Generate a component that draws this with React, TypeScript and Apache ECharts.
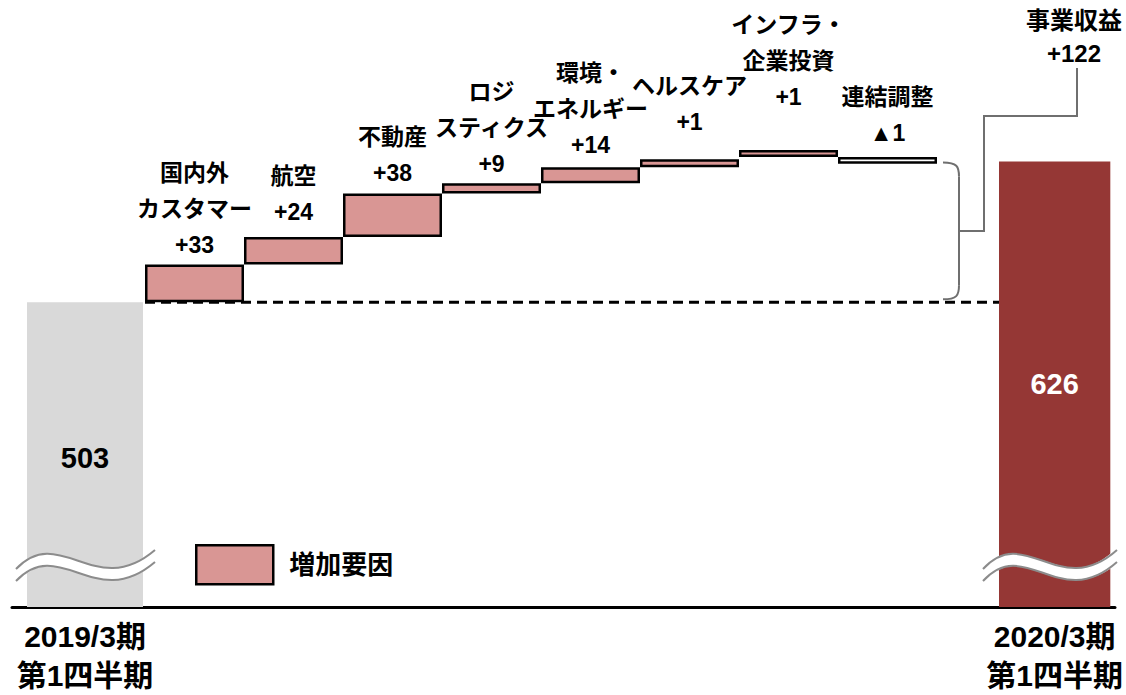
import React, { useEffect, useRef } from 'react';
import * as echarts from 'echarts';

// ---- data ----
const startLabel = '2019/3期\n第1四半期';
const endLabel = '2020/3期\n第1四半期';
const startValue = 503;
const endValue = 626;
const totalName = '事業収益';
const totalChangeLabel = '+122';
const legendName = '増加要因';
const stepNames = ['国内外\nカスタマー', '航空', '不動産', 'ロジ\nスティクス', '環境・\nエネルギー', 'ヘルスケア', 'インフラ・\n企業投資', '連結調整'];
const stepLabels = ['+33', '+24', '+38', '+9', '+14', '+1', '+1', '▲1'];
// bar extents as drawn in the picture (low / high)
const stepLow = [503, 536, 560, 598, 607, 621, 630, 624];
const stepHigh = [536, 560, 598, 607, 621, 628, 636, 630];
const stepIsDecrease = [false, false, false, false, false, false, false, true];

// ---- layout / style ----
const FONT = "'Liberation Sans', 'Noto Sans CJK JP', sans-serif";
const Y_MIN = 237;
const Y_MAX = 767;
const GRID_TOP = 0;
const GRID_BOTTOM = 88;
const G0_LEFT = 27, G0_W = 116;
const G1_LEFT = 145, G1_W = 792;
const G2_LEFT = 999, G2_W = 116;
const labelDistances = [2, 7, 3, 1, 4, 19, 35, 6];
const PINK = '#D99694';
const DARK = '#953735';
const GRAY = '#D9D9D9';
const LINE_GRAY = '#6f6f6f';

function makeYAxis(gridIndex: number) {
  return {
    type: 'value', gridIndex, min: Y_MIN, max: Y_MAX,
    show: false, splitLine: { show: false },
  };
}

export default function App() {
  const ref = useRef<HTMLDivElement>(null);

  useEffect(() => {
    if (!ref.current) return;
    const chart = echarts.init(ref.current, null, { renderer: 'svg' });

    const axisLabelStyle = {
      interval: 0, fontSize: 30, fontWeight: 'bold', color: '#000',
      fontFamily: FONT, lineHeight: 39, margin: 10,
    };

    const option: any = {
      animation: false,
      textStyle: { fontFamily: FONT },
      grid: [
        { left: G0_LEFT, width: G0_W, top: GRID_TOP, bottom: GRID_BOTTOM },
        { left: G1_LEFT, width: G1_W, top: GRID_TOP, bottom: GRID_BOTTOM },
        { left: G2_LEFT, width: G2_W, top: GRID_TOP, bottom: GRID_BOTTOM },
        { left: 12, right: 11, top: GRID_TOP, bottom: GRID_BOTTOM },
      ],
      xAxis: [
        {
          type: 'category', gridIndex: 0, data: [startLabel],
          axisLine: { show: false }, axisTick: { show: false }, axisLabel: axisLabelStyle,
        },
        {
          type: 'category', gridIndex: 1, data: stepNames,
          axisLine: { show: false }, axisTick: { show: false }, axisLabel: { show: false },
        },
        {
          type: 'category', gridIndex: 2, data: [endLabel],
          axisLine: { show: false }, axisTick: { show: false }, axisLabel: axisLabelStyle,
        },
        {
          type: 'value', gridIndex: 3, min: 0, max: 1,
          axisLine: { show: true, onZero: false, lineStyle: { color: '#000', width: 3 } },
          axisTick: { show: false }, axisLabel: { show: false }, splitLine: { show: false },
        },
      ],
      yAxis: [makeYAxis(0), makeYAxis(1), makeYAxis(2), makeYAxis(3)],
      legend: {
        data: [legendName],
        left: 195, top: 544, padding: 0,
        icon: 'rect', itemWidth: 77, itemHeight: 39,
        itemStyle: { color: PINK, borderColor: '#000', borderWidth: 2.5 },
        textStyle: { fontSize: 26, fontWeight: 'bold', color: '#000', fontFamily: FONT, padding: [0, 0, 0, 11] },
        selectedMode: false,
      },
      series: [
        {
          type: 'bar', xAxisIndex: 0, yAxisIndex: 0, barWidth: '100%',
          data: [startValue],
          itemStyle: { color: GRAY },
          label: {
            show: true, position: 'inside', fontSize: 29, fontWeight: 'bold',
            color: '#000', fontFamily: FONT, formatter: String(startValue), offset: [0, 3],
          },
          silent: true,
        },
        {
          type: 'bar', name: 'base', xAxisIndex: 1, yAxisIndex: 1, stack: 'wf',
          barCategoryGap: '0%',
          data: stepLow,
          itemStyle: { color: 'rgba(0,0,0,0)' },
          silent: true,
        },
        {
          type: 'bar', name: legendName, xAxisIndex: 1, yAxisIndex: 1, stack: 'wf',
          barCategoryGap: '0%',
          itemStyle: { color: PINK, borderColor: '#000', borderWidth: 2.5 },
          label: {
            show: true, position: 'top', fontSize: 23, fontWeight: 'bold',
            color: '#000', fontFamily: FONT, lineHeight: 36,
          },
          data: stepLow.map((lo, i) => ({
            value: stepHigh[i] - lo,
            itemStyle: stepIsDecrease[i] ? { color: '#fff' } : undefined,
            label: {
              formatter: stepNames[i] + '\n' + stepLabels[i],
              distance: labelDistances[i],
            },
          })),
          silent: true,
        },
        {
          type: 'bar', xAxisIndex: 2, yAxisIndex: 2, barWidth: '100%',
          data: [endValue],
          itemStyle: { color: DARK },
          label: {
            show: true, position: 'inside', fontSize: 29, fontWeight: 'bold',
            color: '#fff', fontFamily: FONT, formatter: String(endValue),
          },
          silent: true,
        },
      ],
    };

    chart.setOption(option);

    const yStart = chart.convertToPixel({ yAxisIndex: 1 }, startValue) as number;
    const yEnd = chart.convertToPixel({ yAxisIndex: 1 }, endValue) as number;
    const axisY = chart.convertToPixel({ yAxisIndex: 1 }, Y_MIN) as number;

    const bracketX0 = G1_LEFT + G1_W + 6;
    const bracketX1 = bracketX0 + 16;
    const bTop = yEnd + 1;
    const bBot = yStart - 3;
    const bMid = (bTop + bBot) / 2;
    const elbowX = 984;
    const elbowY = 116;
    const labelX = 1077;

    const waveCy = axisY - 40;
    const wave = (x0: number, w: number) => {
      const pts = {
        x1: x0, y1: waveCy + 8,
        cpx1: x0 + w * 0.32, cpy1: waveCy - 38,
        cpx2: x0 + w * 0.57, cpy2: waveCy + 40,
        x2: x0 + w, y2: waveCy - 11,
      };
      const off = (d: number) => ({
        x1: pts.x1, y1: pts.y1 + d, cpx1: pts.cpx1, cpy1: pts.cpy1 + d,
        cpx2: pts.cpx2, cpy2: pts.cpy2 + d, x2: pts.x2, y2: pts.y2 + d,
      });
      return [
        { type: 'bezierCurve', z: 20, shape: pts, style: { stroke: '#fff', lineWidth: 12, fill: null } },
        { type: 'bezierCurve', z: 21, shape: off(-6), style: { stroke: '#8c8c8c', lineWidth: 2, fill: null } },
        { type: 'bezierCurve', z: 21, shape: off(6), style: { stroke: '#8c8c8c', lineWidth: 2, fill: null } },
      ];
    };

    chart.setOption({
      graphic: [
        {
          type: 'line', z: 5,
          shape: { x1: G1_LEFT, y1: yStart, x2: G2_LEFT, y2: yStart },
          style: { stroke: '#000', lineWidth: 3, lineDash: [10, 6] },
        },
        {
          type: 'bezierCurve', z: 5,
          shape: { x1: bracketX0, y1: bTop, cpx1: bracketX1 - 2, cpy1: bTop, cpx2: bracketX1, cpy2: bTop + 4, x2: bracketX1, y2: bTop + 14 },
          style: { stroke: LINE_GRAY, lineWidth: 2, fill: null },
        },
        {
          type: 'line', z: 5,
          shape: { x1: bracketX1, y1: bTop + 14, x2: bracketX1, y2: bBot - 14 },
          style: { stroke: LINE_GRAY, lineWidth: 2 },
        },
        {
          type: 'bezierCurve', z: 5,
          shape: { x1: bracketX1, y1: bBot - 14, cpx1: bracketX1, cpy1: bBot - 4, cpx2: bracketX1 - 2, cpy2: bBot, x2: bracketX0, y2: bBot },
          style: { stroke: LINE_GRAY, lineWidth: 2, fill: null },
        },
        {
          type: 'polyline', z: 5,
          shape: { points: [[bracketX1, bMid], [elbowX, bMid], [elbowX, elbowY], [labelX, elbowY], [labelX, 68]] },
          style: { stroke: LINE_GRAY, lineWidth: 2, fill: null },
        },
        {
          type: 'text', z: 5, x: labelX - 3, y: 4,
          style: {
            text: totalName + '\n' + totalChangeLabel,
            fill: '#000', font: `bold 24px ${FONT}`,
            fontSize: 24, fontWeight: 'bold', fontFamily: FONT,
            lineHeight: 33, align: 'center', textAlign: 'center', verticalAlign: 'top',
          },
        },
        ...wave(16, 139),
        ...wave(983, 134),
      ],
    });

    return () => chart.dispose();
  }, []);

  return (
    <div
      ref={ref}
      style={{ position: 'absolute', left: 0, top: 0, width: 1126, height: 695, background: '#fff' }}
    />
  );
}
